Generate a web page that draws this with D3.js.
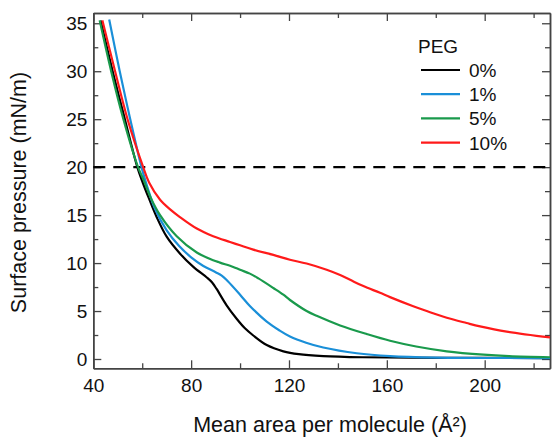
<!DOCTYPE html>
<html>
<head>
<meta charset="utf-8">
<script src="https://cdn.jsdelivr.net/npm/d3@7"></script>
<style>
  html, body { margin: 0; padding: 0; background: #fff; }
  svg { display: block; }
  text { font-family: "Liberation Sans", Arial, sans-serif; fill: #111; }
</style>
</head>
<body>
<svg id="chart" width="552" height="437"></svg>
<script>
// ---- data (Mean area per molecule [Å²], Surface pressure [mN/m]) ----
const seriesNames = ["0%", "1%", "5%", "10%"];
const seriesColors = ["#000000", "#1a8fd8", "#1a9a4c", "#ff1a1a"];

const peg0 = [
  [43.0,35.3],[47.9,30.0],[52.9,25.0],[58.0,20.0],[60.2,18.4],[62.5,16.9],[65.9,14.8],
  [70,12.75],[75.4,11.0],[80.9,9.6],[86.4,8.5],[88.5,8.0],[90.4,7.3],[94.5,5.6],
  [98.6,4.2],[102,3.2],[105.4,2.45],[110.9,1.45],[117.7,0.8],[124,0.5],[134,0.3],
  [150,0.18],[180,0.12],[226.7,0.1]
];
const peg1 = [
  [46.5,35.4],[50.8,30.0],[55.1,25.0],[59.7,20.0],[62,18.0],[65,15.8],[70,13.4],
  [75,11.8],[80,10.6],[85,9.7],[90,9.05],[92.5,8.7],[95,8.1],[100,6.7],[104.1,5.5],
  [110.9,3.9],[116,3.0],[120.4,2.35],[127,1.7],[134,1.2],[147.7,0.6],[161.3,0.3],
  [180,0.15],[226.7,0.1]
];
const peg5 = [
  [42.6,35.3],[47.3,30.0],[52.3,25.0],[58.3,20.0],[60.5,18.7],[63.5,16.8],[67.3,15.0],
  [74.1,12.8],[82.3,11.1],[89,10.3],[91.8,10.05],[97.2,9.6],[100,9.3],[104,8.9],
  [107.5,8.4],[113.6,7.4],[117.7,6.7],[120.4,6.15],[127.2,5.0],[131.3,4.5],[140.9,3.5],
  [151.8,2.6],[161.3,1.9],[172,1.3],[184.5,0.8],[199.5,0.45],[210,0.3],[226.7,0.18]
];
const peg10 = [
  [43.7,35.3],[48.9,30.0],[54.0,25.0],[60.4,20.0],[62.8,18.4],[67.3,16.6],
  [71.4,15.6],[75.4,14.8],[82.3,13.6],[89,12.8],[95.9,12.2],[100,11.85],[105.4,11.4],
  [113.6,10.85],[120.4,10.35],[127.2,9.95],[135.4,9.3],[140.9,8.75],[145,8.25],
  [150.4,7.6],[157.2,6.9],[161.3,6.45],[170.8,5.5],[176.3,5.0],[184.5,4.3],
  [192.6,3.75],[198.1,3.4],[209,2.85],[226.7,2.25]
];
const seriesData = [peg0, peg1, peg5, peg10];

const xTicks = [40, 80, 120, 160, 200];
const xMinorTicks = [60, 100, 140, 180, 220];
const yTicks = [0, 5, 10, 15, 20, 25, 30, 35];
const yMinorTicks = [2.5, 7.5, 12.5, 17.5, 22.5, 27.5, 32.5];
const refLine = 20;
const xTitle = "Mean area per molecule (Å²)";
const yTitle = "Surface pressure (mN/m)";
const legendTitle = "PEG";

// ---- layout ----
const pL = 93.3, pR = 550, pT = 13, pB = 368.3;
const svg = d3.select("#chart");
const x = d3.scaleLinear().domain([40, 226.7]).range([pL, pR]);
const y = d3.scaleLinear().domain([-0.97, 36.07]).range([pB, pT]);

const axisColor = "#444";
function styleAxis(g) {
  g.select(".domain").attr("stroke", axisColor).attr("stroke-width", 1.5);
  g.selectAll(".tick line").attr("stroke", axisColor).attr("stroke-width", 1.3);
  g.selectAll(".tick text").attr("font-size", 19).attr("fill", "#111")
    .attr("font-family", "'Liberation Sans', Arial, sans-serif");
}

// bottom
svg.append("g").attr("transform", `translate(0,${pB})`)
  .call(d3.axisBottom(x).tickValues(xTicks).tickFormat(d3.format("d")).tickSize(-8).tickPadding(10).tickSizeOuter(0))
  .call(styleAxis);
svg.append("g").attr("transform", `translate(0,${pB})`)
  .call(d3.axisBottom(x).tickValues(xMinorTicks).tickFormat("").tickSize(-5).tickSizeOuter(0))
  .call(styleAxis);
// top
svg.append("g").attr("transform", `translate(0,${pT})`)
  .call(d3.axisTop(x).tickValues(xTicks).tickFormat("").tickSize(-8).tickSizeOuter(0))
  .call(styleAxis);
svg.append("g").attr("transform", `translate(0,${pT})`)
  .call(d3.axisTop(x).tickValues(xMinorTicks).tickFormat("").tickSize(-5).tickSizeOuter(0))
  .call(styleAxis);
// left
svg.append("g").attr("transform", `translate(${pL},0)`)
  .call(d3.axisLeft(y).tickValues(yTicks).tickFormat(d3.format("d")).tickSize(-8).tickPadding(6).tickSizeOuter(0))
  .call(styleAxis);
svg.append("g").attr("transform", `translate(${pL},0)`)
  .call(d3.axisLeft(y).tickValues(yMinorTicks).tickFormat("").tickSize(-5).tickSizeOuter(0))
  .call(styleAxis);
// right
svg.append("g").attr("transform", `translate(${pR},0)`)
  .call(d3.axisRight(y).tickValues(yTicks).tickFormat("").tickSize(-8).tickSizeOuter(0))
  .call(styleAxis);
svg.append("g").attr("transform", `translate(${pR},0)`)
  .call(d3.axisRight(y).tickValues(yMinorTicks).tickFormat("").tickSize(-5).tickSizeOuter(0))
  .call(styleAxis);

// reference dashed line
svg.append("line")
  .attr("x1", x(40)).attr("x2", x(226.7))
  .attr("y1", y(refLine)).attr("y2", y(refLine))
  .attr("stroke", "#000").attr("stroke-width", 2.2).attr("stroke-dasharray", "12,8");

// curves
svg.append("clipPath").attr("id", "clip").append("rect")
  .attr("x", pL).attr("y", pT).attr("width", pR - pL).attr("height", pB - pT);
const line = d3.line().x(d => x(d[0])).y(d => y(d[1])).curve(d3.curveCatmullRom.alpha(0.5));
svg.append("g").attr("clip-path", "url(#clip)")
  .selectAll("path").data(seriesData).join("path")
  .attr("d", line)
  .attr("fill", "none")
  .attr("stroke", (d, i) => seriesColors[i])
  .attr("stroke-width", 2.2)
  .attr("stroke-linejoin", "round");

// legend
const lg = svg.append("g");
lg.append("text").attr("x", 418).attr("y", 53).attr("font-size", 19).text(legendTitle);
const rows = lg.selectAll("g.row").data(seriesNames).join("g").attr("class", "row")
  .attr("transform", (d, i) => `translate(0,${70 + i * 24.2})`);
rows.append("line").attr("x1", 421).attr("x2", 460).attr("y1", 0).attr("y2", 0)
  .attr("stroke", (d, i) => seriesColors[i]).attr("stroke-width", 2.2);
rows.append("text").attr("x", 469).attr("y", 7).attr("font-size", 19).text(d => d);

// axis titles
svg.append("text").attr("x", 330).attr("y", 431.5).attr("text-anchor", "middle")
  .attr("font-size", 21.5).text(xTitle);
svg.append("text").attr("transform", `translate(26,192.5) rotate(-90)`)
  .attr("text-anchor", "middle").attr("font-size", 21.5).text(yTitle);
</script>
</body>
</html>
